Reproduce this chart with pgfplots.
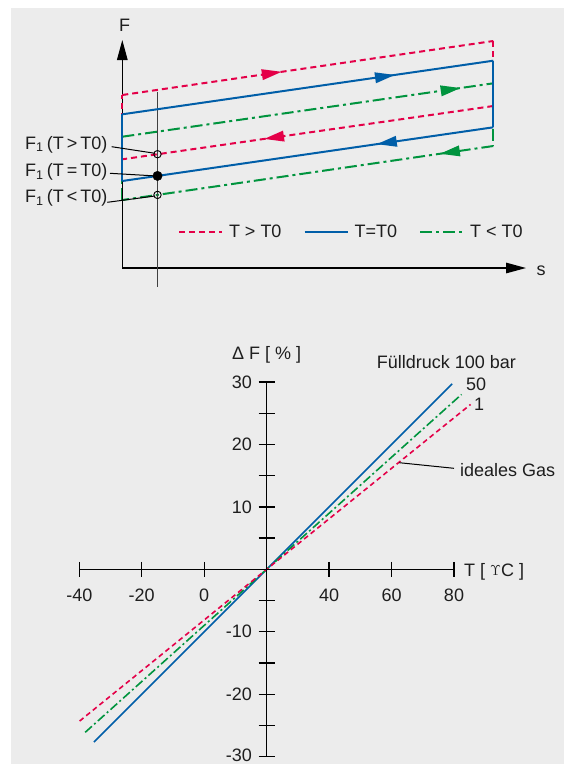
\documentclass[border=0pt]{standalone}
\usepackage{pgfplots}
\pgfplotsset{compat=1.18}
\usepackage{fontspec}
\setmainfont{Liberation Sans}
\usetikzlibrary{arrows.meta,decorations.markings}
\definecolor{cred}{RGB}{228,0,72}
\definecolor{cblue}{RGB}{0,94,168}
\definecolor{cgreen}{RGB}{0,148,62}
\definecolor{bg}{RGB}{236,236,236}
\definecolor{txt}{RGB}{30,30,30}
\tikzset{
  reddash/.style={cred, line width=2pt, dash pattern=on 6pt off 4pt},
  bluesolid/.style={cblue, line width=2pt},
  greendd/.style={cgreen, line width=2pt, dash pattern=on 12pt off 4pt on 3pt off 4pt},
  redthin/.style={cred, line width=1.6pt, dash pattern=on 5pt off 3.5pt},
  bluethin/.style={cblue, line width=1.6pt},
  greenthin/.style={cgreen, line width=1.6pt, dash pattern=on 9pt off 3pt on 2pt off 3pt},
  midarrow/.style={postaction={decorate}, decoration={markings, mark=at position #1 with {\arrow[solid]{Triangle[length=20pt,width=10.5pt]}}}},
  px/.style={x=1pt,y=-1pt},
}
\newcommand\tsp{\hspace{0.17em}}
\begin{document}
\fontsize{18pt}{21pt}\selectfont
\begin{tikzpicture}[font=\fontsize{18pt}{21pt}\selectfont, text=txt]
\fill[white] (0,0) rectangle (564pt,-764pt);
\fill[bg] (11pt,-8pt) rectangle (564pt,-764pt);

% ---------------- top schematic ----------------
\begin{axis}[
  at={(122.3pt,-268pt)}, anchor=south west,
  x=1pt, y=1pt, xmin=0, xmax=371, ymin=0, ymax=227,
  hide axis, clip=false,
  legend columns=3,
  legend image code/.code={\draw[#1] (0pt,0pt) -- (43pt,0pt);},
  legend cell align=left,
  legend style={at={(axis cs:55.7,35.7)}, anchor=west, draw=none, fill=none,
     inner sep=0pt, outer sep=0pt, nodes={inner sep=0pt},
     /tikz/every odd column/.append style={column sep=6pt},
     /tikz/every even column/.append style={column sep=22pt}},
]
\addlegendimage{reddash}\addlegendentry{T > T0}
\addlegendimage{bluesolid}\addlegendentry{T=T0}
\addlegendimage{greendd}\addlegendentry{T < T0}
% green cycle
\addplot[greendd, midarrow=0.912] coordinates {(0,131.3) (371,184.7)};
\addplot[greendd, midarrow=0.144] coordinates {(371,122) (0,68)};
\addplot[greendd] coordinates {(371,184.7) (371,122)};
\addplot[greendd] coordinates {(0,68) (0,131.3)};
% axes
\draw[black, line width=1.3pt, -{Triangle[length=20pt,width=10.5pt]}] (axis cs:0,0) -- (axis cs:0,228);
\draw[black, line width=1.3pt, -{Triangle[length=20pt,width=10.5pt]}] (axis cs:0,0) -- (axis cs:403.7,0);
\draw[black!75, line width=1.2pt] (axis cs:35.2,176.3) -- (axis cs:35.2,-19);
% red cycle
\addplot[reddash, midarrow=0.43] coordinates {(0,173) (371,227)};
\addplot[reddash, midarrow=0.618] coordinates {(371,162) (0,108.7)};
\addplot[reddash] coordinates {(371,227) (371,162)};
\addplot[reddash] coordinates {(0,108.7) (0,173)};
% blue cycle
\addplot[bluesolid, midarrow=0.735] coordinates {(0,153.7) (371,207.3)};
\addplot[bluesolid, midarrow=0.314] coordinates {(371,140.7) (0,87)};
\addplot[bluesolid] coordinates {(371,207.3) (371,140.7)};
\addplot[bluesolid] coordinates {(0,87) (0,153.7)};
% F1 points
\addplot[only marks, mark=o, mark size=3.7pt, black, line width=0.9pt] coordinates {(35.2,113.8) (35.2,73.1)};
\addplot[only marks, mark=*, mark size=4.7pt, black] coordinates {(35.2,92.1)};
\end{axis}

\begin{scope}[px]
\node at (124.7,25.5) {F};
\node at (541,271) {s};
\node[anchor=base west, inner sep=0pt] at (25,149) {F\textsubscript{1}\tsp(T\tsp>\tsp T0)};
\node[anchor=base west, inner sep=0pt] at (25,176.5) {F\textsubscript{1}\tsp(T\tsp=\tsp T0)};
\node[anchor=base west, inner sep=0pt] at (25,202.7) {F\textsubscript{1}\tsp(T\tsp<\tsp T0)};
\draw[black, line width=1pt] (111.7,146.7) -- (155,153.3);
\draw[black, line width=1pt] (110,173.3) -- (156.7,176);
\draw[black, line width=1pt] (107.3,202.3) -- (155,196);
\end{scope}

% ---------------- bottom chart ----------------
\begin{axis}[
  at={(79.3pt,-756.65pt)}, anchor=south west,
  x=3.1225pt, y=6.245pt, xmin=-40, xmax=80, ymin=-30, ymax=30,
  hide axis, clip=false,
]
\addplot[bluethin] coordinates {(-35.3,-27.65) (20,0) (79.4,29.7)};
\addplot[greenthin] coordinates {(-38.1,-26.1) (20,0) (82.4,28.0)};
\addplot[redthin] coordinates {(-39.9,-24.3) (20,0) (85.3,26.4)};
\end{axis}

\begin{scope}[px]
% x axis
\draw[black, line width=1.3pt] (79.3,569.3) -- (454,569.3);
\foreach \t in {-40,-20,0,40,60,80}
  \draw[black, line width=1.3pt] ({79.3+(\t+40)*3.1225},561.8) -- ({79.3+(\t+40)*3.1225},576.8);
\foreach \t in {-40,-20,0,40,60,80}
  \node[anchor=base, inner sep=0pt] at ({79.3+(\t+40)*3.1225},601.7) {\t};
% y axis
\draw[black, line width=1.3pt] (266.65,381.95) -- (266.65,756.65);
\foreach \v in {-30,-25,-20,-15,-10,-5,5,10,15,20,25,30}
  \draw[black, line width=1.3pt] (258.65,{569.3-(\v)*6.245}) -- (274.65,{569.3-(\v)*6.245});
\foreach \v in {30,20,10,-10,-20}
  \node[anchor=east, inner sep=0pt] at (252,{569.3-(\v)*6.245}) {\v};
\node[anchor=east, inner sep=0pt] at (252,755.4) {-30};
\node[anchor=base west, inner sep=0pt] at (232,359.3) {Δ F [ \% ]};
\node[anchor=base west, inner sep=0pt] at (464,576.7) {T [ \raisebox{1.5pt}{\fontsize{14pt}{14pt}\selectfont$\Upsilon$}C ]};
\node[anchor=base west, inner sep=0pt] at (376.7,368.3) {Fülldruck 100 bar};
\node[anchor=base west, inner sep=0pt] at (466,390) {50};
\node[anchor=base west, inner sep=0pt] at (474,410.7) {1};
\node[anchor=base west, inner sep=0pt] at (460,476.5) {ideales Gas};
\draw[black, line width=1pt] (399.3,462.7) -- (454,468.3);
\end{scope}

\pgfresetboundingbox
\useasboundingbox (0,0) rectangle (564pt,-764pt);
\end{tikzpicture}
\end{document}
